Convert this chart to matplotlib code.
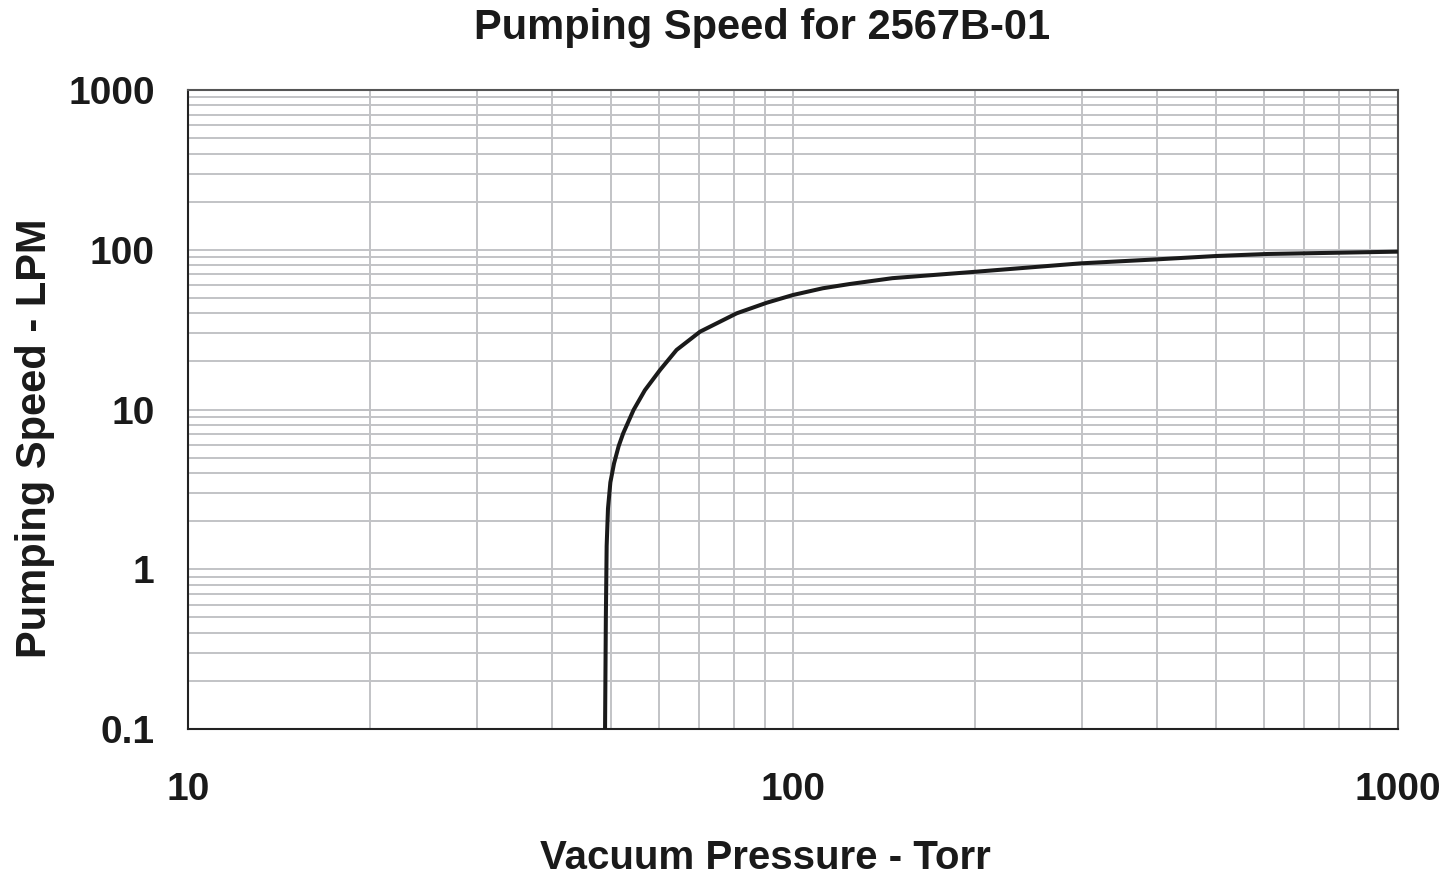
import matplotlib
matplotlib.use('Agg')
import matplotlib.pyplot as plt
from matplotlib.ticker import LogLocator, NullFormatter, FixedLocator, FixedFormatter

# curve (pressure in Torr, speed in LPM)
pressure = [48.9, 49.05, 49.2, 49.45, 49.9, 50.6, 51.5, 52.4, 54.5, 56.9, 60.3, 64.2, 70.2,
            80.7, 90.5, 100, 112, 124, 146, 201, 299, 400, 501, 609, 701, 1000]
speed = [0.1, 0.5, 1.4, 2.4, 3.5, 4.6, 5.9, 7.10, 9.93, 13.2, 17.7, 23.6, 30.7,
         40.0, 46.6, 52.1, 57.4, 61.0, 66.4, 72.9, 82.2, 87.1, 91.4, 94.1, 95.0, 97.3]

x_ticks = [10, 100, 1000]
x_labels = ['10', '100', '1000']
y_ticks = [0.1, 1, 10, 100, 1000]
y_labels = ['0.1', '1', '10', '100', '1000']

label_font = ['Liberation Sans', 'DejaVu Sans']

fig = plt.figure(figsize=(14.52, 8.84), dpi=100)
ax = fig.add_axes([0.1295, 0.1753, 0.8333, 0.7229])

ax.plot(pressure, speed, color='#1a1a1a', lw=2.9, solid_capstyle='butt',
        solid_joinstyle='round', zorder=3)

ax.set_xscale('log')
ax.set_yscale('log')
ax.set_xlim(10, 1000)
ax.set_ylim(0.1, 1000)

ax.xaxis.set_major_locator(FixedLocator(x_ticks))
ax.xaxis.set_major_formatter(FixedFormatter(x_labels))
ax.yaxis.set_major_locator(FixedLocator(y_ticks))
ax.yaxis.set_major_formatter(FixedFormatter(y_labels))
ax.xaxis.set_minor_locator(LogLocator(base=10, subs=range(2, 10)))
ax.yaxis.set_minor_locator(LogLocator(base=10, subs=range(2, 10)))
ax.xaxis.set_minor_formatter(NullFormatter())
ax.yaxis.set_minor_formatter(NullFormatter())

ax.grid(True, which='both', color='#c2c3c6', lw=1.4, zorder=1)
ax.tick_params(which='both', length=0)
ax.tick_params(axis='x', pad=31)
ax.tick_params(axis='y', pad=24)

for lbl in ax.get_xticklabels() + ax.get_yticklabels():
    lbl.set_family(label_font)
    lbl.set_fontweight('bold')
    lbl.set_fontsize(28)
    lbl.set_color('#1a1a1a')

for side in ['left', 'bottom']:
    ax.spines[side].set_color('#222222')
    ax.spines[side].set_linewidth(1.5)
for side in ['top', 'right']:
    ax.spines[side].set_color('#555555')
    ax.spines[side].set_linewidth(1.5)

fig.text(0.525, 0.968, 'Pumping Speed for 2567B-01', ha='center', va='center',
         family=label_font, fontweight='bold', fontsize=30, color='#1a1a1a')
fig.text(0.527, 0.029, 'Vacuum Pressure - Torr', ha='center', va='center',
         family=label_font, fontweight='bold', fontsize=29, color='#1a1a1a')
fig.text(0.024, 0.504, 'Pumping Speed - LPM', ha='center', va='center', rotation=90,
         family=label_font, fontweight='bold', fontsize=30, color='#1a1a1a')

plt.savefig('out.png', dpi=100)
